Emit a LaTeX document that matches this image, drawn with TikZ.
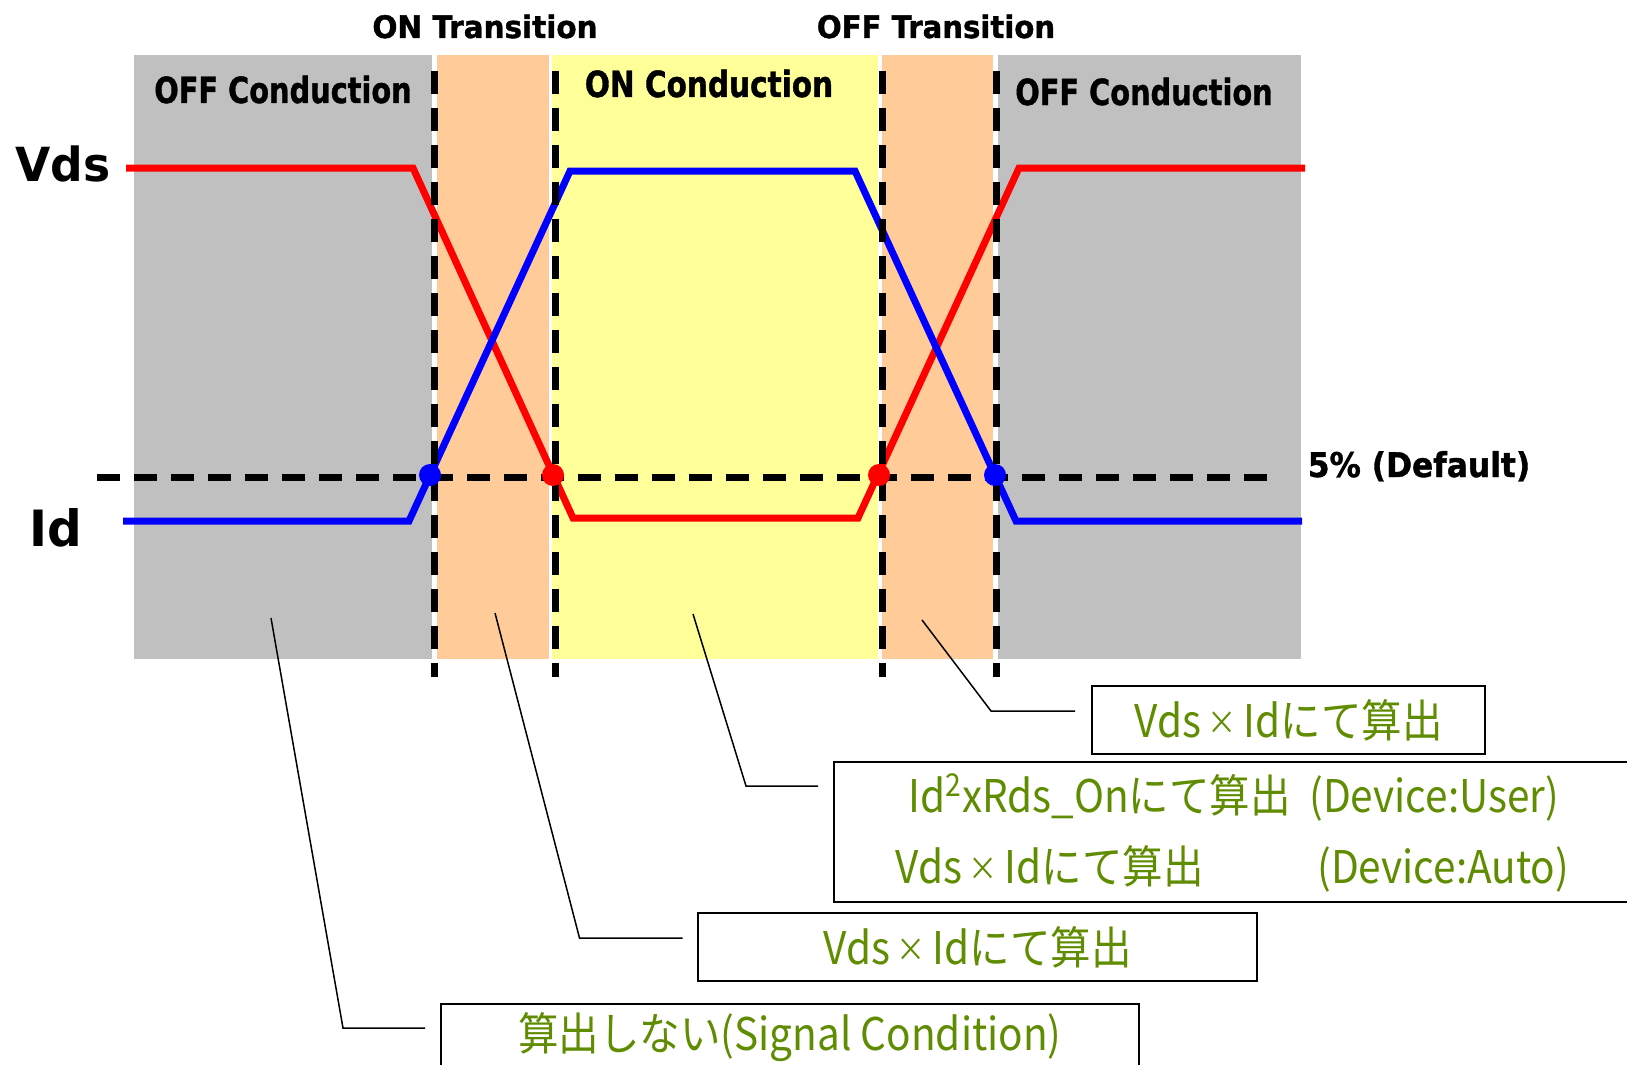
\documentclass[tikz,border=0pt]{standalone}
\usepackage{fontspec}
\newfontfamily\hdfont{DejaVu Sans}
\newfontfamily\hdheavy[FakeBold=1.2]{DejaVu Sans Bold}
\newfontfamily\jpfont{Noto Sans CJK JP}
\definecolor{offgray}{RGB}{192,192,192}
\definecolor{trorange}{RGB}{255,204,153}
\definecolor{onyellow}{RGB}{255,255,153}
\definecolor{calcgreen}{RGB}{95,140,0}
\newcommand\hx[2]{\scalebox{#1}[1]{#2}}
\newcommand\tm{\,\raisebox{0.1ex}{\scalebox{0.72}{×}}\,}
\begin{document}
\begin{tikzpicture}[x=0.5pt,y=-0.5pt,
  phase/.style={font=\hdheavy\fontsize{18}{22}\selectfont, inner sep=0, anchor=base},
  trans/.style={font=\hdheavy\fontsize{15.5}{18}\selectfont, inner sep=0, anchor=base},
  axislbl/.style={font=\hdfont\bfseries\fontsize{23.5}{28}\selectfont, inner sep=0, anchor=base},
  calc/.style={font=\jpfont\fontsize{22.5}{27}\selectfont, text=calcgreen, inner sep=0},
  calcbox/.style={draw=black, line width=1pt, inner sep=0, calc},
  guide/.style={black, line width=3.5pt, dash pattern=on 11.5pt off 7pt},
  wave/.style={line width=3.5pt, line join=miter},
  leader/.style={black, line width=0.75pt},
  xdot/.style={circle, inner sep=0, minimum size=11pt}
]
\useasboundingbox (0,0) rectangle (1627,1065);
\clip (0,0) rectangle (1627,1065);

% operating regions
\fill[offgray]  (134,55) rectangle (432,659);
\fill[trorange] (437,55) rectangle (549,659);
\fill[onyellow] (552,55) rectangle (878,659);
\fill[trorange] (882,55) rectangle (993,659);
\fill[offgray]  (998,55) rectangle (1301,659);

% region titles
\node[trans] (tOn)  at (485,38)  {\hx{0.95}{ON Transition}};
\node[trans] (tOff) at (936,38)  {\hx{0.94}{OFF Transition}};
\node[phase] (cOffL) at (283,103) {\hx{0.8}{OFF Conduction}};
\node[phase] (cOn)   at (709,97)  {\hx{0.82}{ON Conduction}};
\node[phase] (cOffR) at (1144,105) {\hx{0.8}{OFF Conduction}};

% signal names and threshold
\node[axislbl] (lVds) at (63,181) {\hx{0.97}{Vds}};
\node[axislbl, font=\hdfont\bfseries\fontsize{25}{30}\selectfont] (lId) at (56,546) {\hx{0.97}{Id}};
\node[phase, font=\hdheavy\fontsize{17}{20}\selectfont] (lThr) at (1419,477) {\hx{0.92}{5\% (Default)}};

% 5 % threshold
\coordinate (thrL) at (97,477);
\coordinate (thrR) at (1274,477);
\draw[guide] (thrL) -- (thrR);

% Vds and Id waveforms
\draw[wave, red]  (126,168) -- (413,168) -- (573,518) -- (858,518) -- (1019,168) -- (1305,168);
\draw[wave, blue] (123,521) -- (409,521) -- (570,171) -- (855,171) -- (1016,521) -- (1302,521);

% transition boundaries
\foreach \x/\n in {434/a, 555/b, 882/c, 996/d} {
  \coordinate (g\n t) at (\x,71);
  \coordinate (g\n b) at (\x,677);
  \draw[guide] (g\n t) -- (g\n b);
}

% 5 % crossing points
\node[xdot, fill=blue] (m1) at (430,475) {};
\node[xdot, fill=red]  (m2) at (553,475) {};
\node[xdot, fill=red]  (m3) at (879,475) {};
\node[xdot, fill=blue] (m4) at (995,475) {};

% loss calculation notes
\node[calcbox, minimum width=196.5pt, minimum height=34pt] (b4) at (1288.5,720)
  {\hx{0.9}{Vds\tm Idにて算出}};
\node[calcbox, minimum width=413pt, minimum height=70pt] (b3) at (1247,832) {};
\node[calc, anchor=base west] (b3a) at (908,812) {\hx{0.9}{Id\textsuperscript{2}xRds\_Onにて算出}};
\node[calc, anchor=base west] (b3b) at (1309,812) {\hx{0.9}{(Device:User)}};
\node[calc, anchor=base west] (b3c) at (895,883) {\hx{0.9}{Vds\tm Idにて算出}};
\node[calc, anchor=base west] (b3d) at (1317,883) {\hx{0.9}{(Device:Auto)}};
\node[calcbox, minimum width=279.5pt, minimum height=34pt] (b2) at (977.5,947)
  {\hx{0.9}{Vds\tm Idにて算出}};
\node[calcbox, minimum width=349pt, minimum height=33pt] (b1) at (790,1037)
  {\hx{0.9}{算出しない(Signal Condition)}};

% leaders from each region to its note
\coordinate (p1) at (271,618);  \coordinate (k1) at (343,1028);  \coordinate (e1) at (425,1028);
\coordinate (p2) at (495,613);  \coordinate (k2) at (579.5,938); \coordinate (e2) at (682.5,938);
\coordinate (p3) at (693,614);  \coordinate (k3) at (746,786);   \coordinate (e3) at (818,786);
\coordinate (p4) at (922,620);  \coordinate (k4) at (991,711);   \coordinate (e4) at (1075,711);
\draw[leader] (p1) -- (k1) -- (e1);
\draw[leader] (p2) -- (k2) -- (e2);
\draw[leader] (p3) -- (k3) -- (e3);
\draw[leader] (p4) -- (k4) -- (e4);
\end{tikzpicture}
\end{document}
